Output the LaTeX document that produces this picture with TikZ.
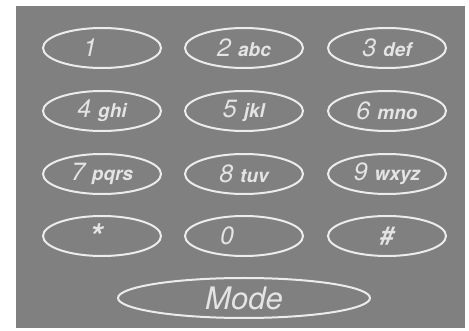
\documentclass[tikz,border=0pt]{standalone}
\usepackage{fontspec}
\setmainfont{TeX Gyre Heros}
\usepackage{tikz}
\usetikzlibrary{shapes.geometric}
\usepackage{xcolor}
\definecolor{padgray}{RGB}{128, 128, 128}
\definecolor{keyline}{RGB}{236, 236, 236}
\definecolor{keytext}{RGB}{228, 228, 228}
\newcommand{\keydigit}[1]{{\fontsize{25}{25}\selectfont #1}}
\newcommand{\keyletters}[1]{\hspace{7pt}{\fontsize{19}{19}\selectfont\bfseries #1}}

\begin{document}
\begin{tikzpicture}[x=1pt, y=-1pt, font=\itshape,
    key/.style={ellipse, draw=keyline, line width=2pt, text=keytext,
      minimum width=118pt, minimum height=40pt, inner sep=0pt}]
  \useasboundingbox (0, 0) rectangle (469, 331);
  \fill[padgray] (16, 6) rectangle (465, 328);

  \node[key] (k1) at (102, 48) {\keydigit{1}\kern24pt};
  \node[key] (k2) at (244, 48) {\keydigit{2}\keyletters{abc}};
  \node[key] (k3) at (387, 48) {\keydigit{3}\keyletters{def}};

  \node[key] (k4) at (102, 111) {\keydigit{4}\keyletters{ghi}};
  \node[key] (k5) at (244, 111) {\keydigit{5}\keyletters{jkl}};
  \node[key] (k6) at (387, 111) {\keydigit{6}\keyletters{mno}};

  \node[key] (k7) at (102, 174) {\keydigit{7}\keyletters{pqrs}};
  \node[key] (k8) at (244, 174) {\keydigit{8}\keyletters{tuv}};
  \node[key] (k9) at (387, 174) {\keydigit{9}\keyletters{wxyz}};

  \node[key] (kstar) at (102, 236) {\fontsize{34}{34}\selectfont\bfseries\raisebox{-6pt}{*}\kern12pt};
  \node[key] (k0) at (244, 236) {\keydigit{0}\kern34pt};
  \node[key] (khash) at (387, 236) {\keydigit{\bfseries\#}};

  % long key at the bottom
  \node[key, minimum width=252pt, minimum height=40pt] (mode) at (244, 298)
    {\fontsize{31}{31}\selectfont Mode};
\end{tikzpicture}
\end{document}
